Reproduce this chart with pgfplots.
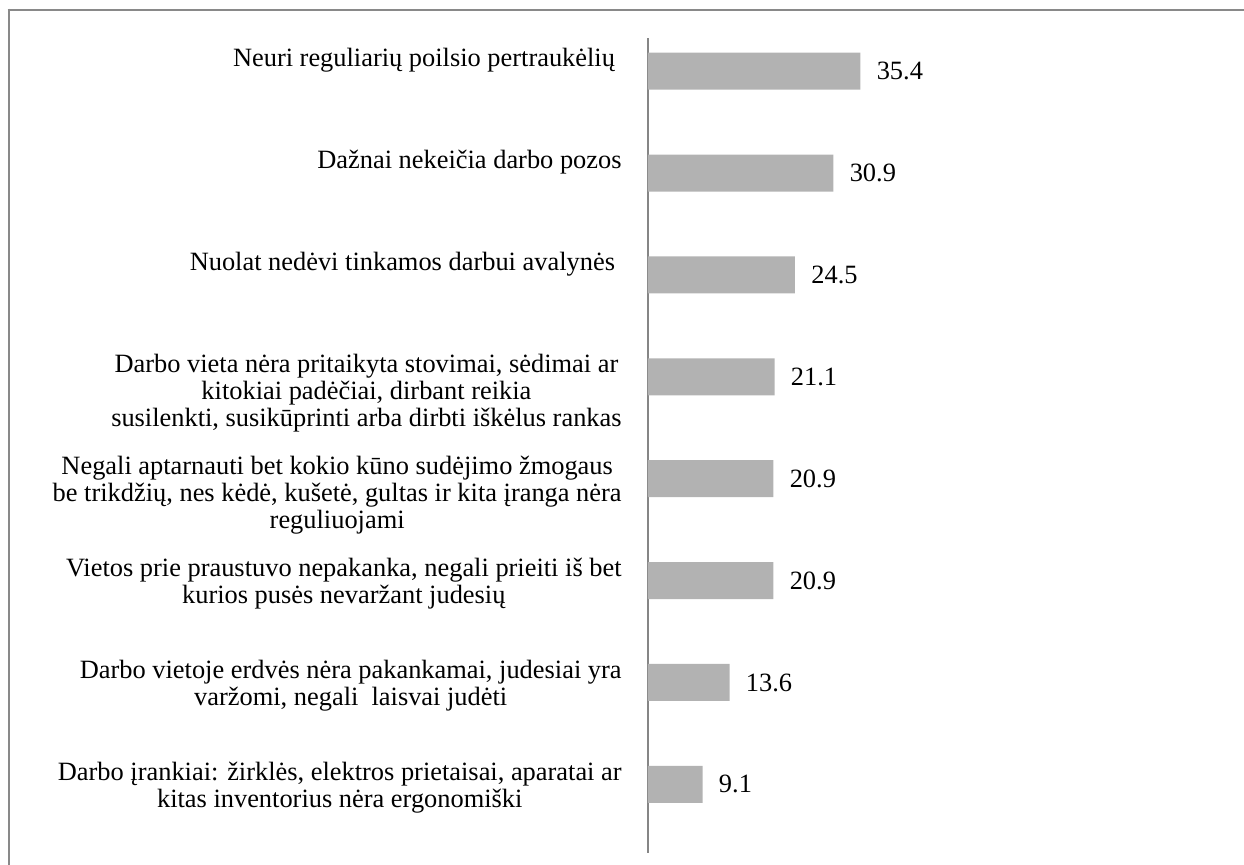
\documentclass[border=0pt]{standalone}
\usepackage{fontspec}
\setmainfont{Liberation Serif}
\usepackage{pgfplots}
\pgfplotsset{compat=1.18}
\definecolor{barg}{RGB}{178,178,178}
\definecolor{frameg}{RGB}{137,137,137}
\definecolor{axg}{RGB}{134,134,134}
\newcommand{\lf}{\fontsize{13.2pt}{13.6pt}\selectfont}
\begin{document}
\begin{tikzpicture}
\useasboundingbox (0,0) rectangle (622pt,-432.5pt);
\draw[frameg, line width=1.4pt] (3.8pt,-5pt) -- (622pt,-5pt);
\draw[frameg, line width=1.4pt] (4.5pt,-4.3pt) -- (4.5pt,-432.5pt);
\begin{axis}[
  at={(324pt,-426.5pt)}, anchor=south west,
  scale only axis,
  width=297pt, height=407.5pt,
  xbar, bar width=18.5pt,
  xmin=0, xmax=99,
  ymin=-0.674, ymax=7.326,
  axis x line=none,
  axis y line*=left,
  axis line style={axg, line width=0.9pt, -},
  ytick={0,...,7},
  major tick length=0pt,
  yticklabels={
    {Darbo įrankiai: žirklės, elektros prietaisai, aparatai ar\\kitas inventorius nėra ergonomiški},
    {Darbo vietoje erdvės nėra pakankamai, judesiai yra\\varžomi, negali\ \ laisvai judėti},
    {Vietos prie praustuvo nepakanka, negali prieiti iš bet\\kurios pusės nevaržant judesių},
    {Negali aptarnauti bet kokio kūno sudėjimo žmogaus\\be trikdžių, nes kėdė, kušetė, gultas ir kita įranga nėra\\reguliuojami},
    {Darbo vieta nėra pritaikyta stovimai, sėdimai ar\\kitokiai padėčiai, dirbant reikia\\susilenkti, susikūprinti arba dirbti iškėlus rankas},
    {Nuolat nedėvi tinkamos darbui avalynės\ },
    {Dažnai nekeičia darbo pozos},
    {Neuri reguliarių poilsio pertraukėlių\ }
  },
  yticklabel style={font=\lf, align=center, anchor=north east, inner sep=0pt, xshift=-13pt, yshift=11.5pt},
  nodes near coords={\pgfmathprintnumber[fixed,fixed zerofill,precision=1,assume math mode=true]{\pgfplotspointmeta}},
  nodes near coords style={font=\lf, anchor=west, inner sep=0pt, xshift=8pt, black},
  clip=false,
]
\addplot[fill=barg, draw=none] coordinates {
  (9.1,0) (13.6,1) (20.9,2) (20.9,3) (21.1,4) (24.5,5) (30.9,6) (35.4,7)
};
\end{axis}
\end{tikzpicture}
\end{document}
